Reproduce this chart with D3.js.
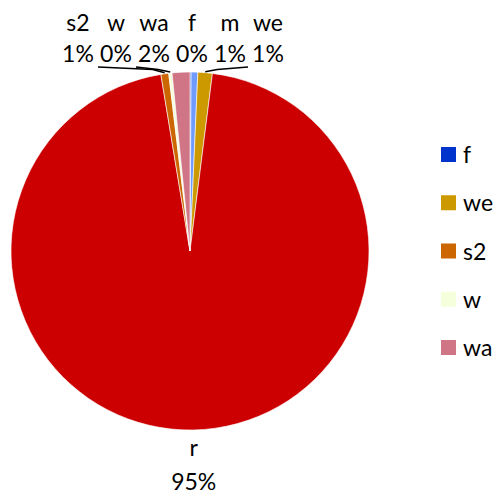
<!DOCTYPE html>
<html>
<head>
<meta charset="utf-8">
<script src="https://cdn.jsdelivr.net/npm/d3@7"></script>
<style>
  body { margin: 0; background: #fff; }
  text { font-family: Lato, "Open Sans", sans-serif; fill: #000; }
</style>
</head>
<body>
<svg id="chart"></svg>
<script>
const names  = ["f", "m", "we", "r", "s2", "w", "wa"];
const values = [0.1, 0.6, 1.3, 95.4, 0.7, 0.3, 1.6];
const colors = ["#0033cc", "#6f9bff", "#cc9900", "#cc0000", "#cc6600", "#f6ffdc", "#d07585"];
const legendNames = ["f", "we", "s2", "w", "wa"];

const W = 496, H = 498;
const cx = 190, cy = 251, R = 179;

const svg = d3.select("#chart").attr("width", W).attr("height", H);
const data = names.map((n, i) => ({ name: n, value: values[i], color: colors[i] }));
const total = d3.sum(values);

const pie = d3.pie().value(d => d.value).sort(null);
const arcs = pie(data);
const arc = d3.arc().innerRadius(0).outerRadius(R);

const g = svg.append("g").attr("transform", `translate(${cx},${cy})`);
g.selectAll("path").data(arcs).join("path")
  .attr("d", arc)
  .attr("fill", d => d.data.color)
  .attr("stroke", "#fff").attr("stroke-width", 0.6);

const pct = d => Math.round(d.data.value / total * 100) + "%";
const mid = d => (d.startAngle + d.endAngle) / 2;
const signed = a => a > Math.PI ? a - 2 * Math.PI : a;

// big slice label below the pie
const big = arcs.filter(d => d.data.value / total > 0.5);
big.forEach(d => {
  const a = mid(d);
  const x = cx + Math.sin(a) * (R + 18), y = cy - Math.cos(a) * (R + 18);
  svg.append("text").attr("x", x).attr("y", y + 8).attr("text-anchor", "middle")
    .attr("font-size", 23).text(d.data.name);
  svg.append("text").attr("x", x).attr("y", y + 42).attr("text-anchor", "middle")
    .attr("font-size", 23).text(pct(d));
});

// small slices spread across the top
const small = arcs.filter(d => d.data.value / total <= 0.5)
  .sort((a, b) => signed(mid(a)) - signed(mid(b)));
const firstPos = small.findIndex(d => signed(mid(d)) >= 0);
const spacing = 38;
small.forEach((d, i) => {
  const lx = cx + 2 + (i - firstPos) * spacing;
  const a = mid(d);
  const ax = cx + Math.sin(a) * (R + 1), ay = cy - Math.cos(a) * (R + 1);
  if (Math.abs(lx - ax) > 40) {
    const side = lx < ax ? 1 : -1;
    const sx = lx + side * 20, sy = 67;
    svg.append("path")
      .attr("d", d3.line()([[sx, sy], [ax - side * 12, sy + 2.5], [ax, ay]]))
      .attr("fill", "none").attr("stroke", "#000").attr("stroke-width", 1.5);
  }
  svg.append("text").attr("x", lx).attr("y", 31).attr("text-anchor", "middle")
    .attr("font-size", 23).text(d.data.name);
  svg.append("text").attr("x", lx).attr("y", 62).attr("text-anchor", "middle")
    .attr("font-size", 23).text(pct(d));
});

// legend
const legend = svg.append("g");
const ly = d3.scalePoint().domain(legendNames).range([155, 348]);
legendNames.forEach(n => {
  const c = colors[names.indexOf(n)];
  legend.append("rect").attr("x", 441).attr("y", ly(n) - 8).attr("width", 15).attr("height", 15)
    .attr("fill", c);
  legend.append("text").attr("x", 463).attr("y", ly(n) + 8).attr("font-size", 23).text(n);
});
</script>
</body>
</html>
